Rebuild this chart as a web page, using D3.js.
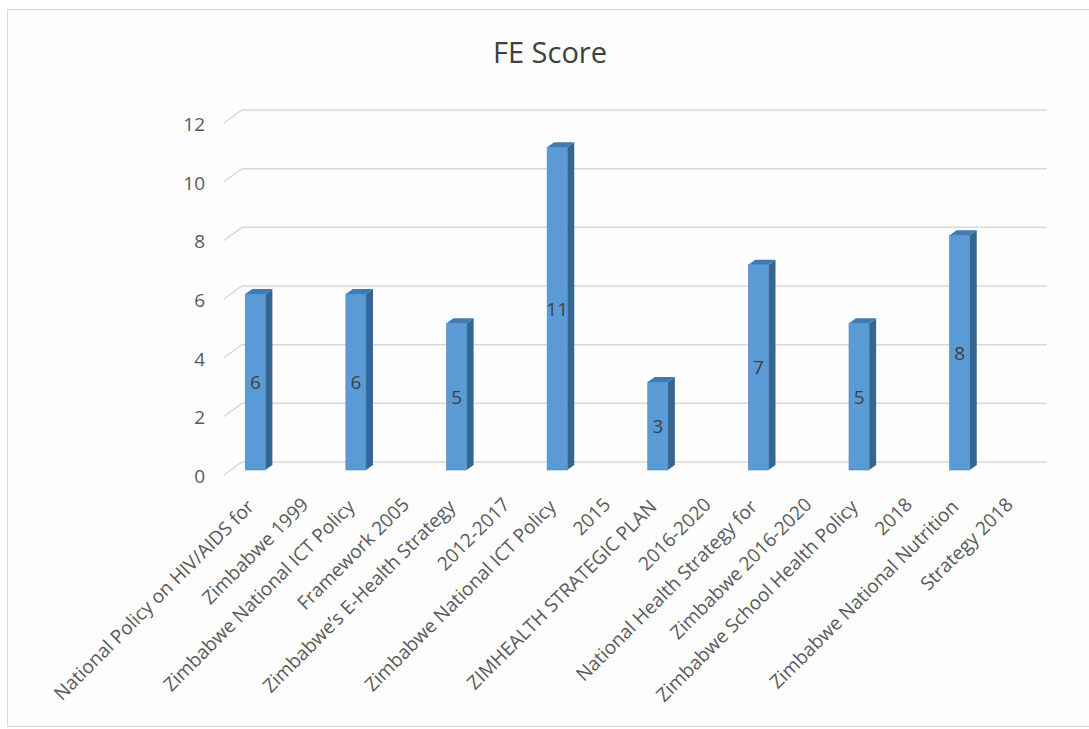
<!DOCTYPE html>
<html>
<head>
<meta charset="utf-8">
<script src="https://cdn.jsdelivr.net/npm/d3@7"></script>
<style>
  body { margin: 0; background: #fff; }
  text { font-family: "Open Sans", sans-serif; }
</style>
</head>
<body>
<svg id="chart" width="1089" height="729"></svg>
<script>
// category labels, each wrapped over two lines as in the original
var labelLine1 = [
  "National Policy on HIV/AIDS for",
  "Zimbabwe National ICT Policy",
  "Zimbabwe\u2019s E-Health Strategy",
  "Zimbabwe National ICT Policy",
  "ZIMHEALTH STRATEGIC PLAN",
  "National Health Strategy for",
  "Zimbabwe School Health Policy",
  "Zimbabwe National Nutrition"
];
var labelLine2 = [
  "Zimbabwe 1999",
  "Framework 2005",
  "2012-2017",
  "2015",
  "2016-2020",
  "Zimbabwe 2016-2020",
  "2018",
  "Strategy 2018"
];
var scores = [6, 6, 5, 11, 3, 7, 5, 8];
var yTicks = [0, 2, 4, 6, 8, 10, 12];

var svg = d3.select("#chart");

// frame
svg.append("rect")
  .attr("x", 7.5).attr("y", 9.5)
  .attr("width", 1095).attr("height", 717)
  .attr("fill", "#fdfdfd")
  .attr("stroke", "#d9d9d9");

svg.append("text")
  .attr("x", 550).attr("y", 63)
  .attr("text-anchor", "middle")
  .attr("font-size", 29)
  .attr("fill", "#404040")
  .text("FE Score");

var x = d3.scaleBand()
  .domain(d3.range(scores.length))
  .range([205, 1010])
  .paddingInner(0.8)
  .paddingOuter(0.4);

// front face scale, back wall sits a bit higher
var y = d3.scaleLinear().domain([0, 12]).range([470, 118]);
var wallShift = -8;
var depthX = 7, depthY = -5;

// gridlines on the back wall plus the little slanted ends
var grid = svg.append("g");
yTicks.forEach(function(t) {
  var yb = y(t) + wallShift;
  grid.append("path")
    .attr("d", "M224," + (yb + 13) + "L242," + yb + "L1047," + yb)
    .attr("fill", "none")
    .attr("stroke", "#d9d9d9")
    .attr("stroke-width", 1.5);
  grid.append("text")
    .attr("x", 205).attr("y", yb + 21)
    .attr("text-anchor", "end")
    .attr("font-size", 19)
    .attr("fill", "#595959")
    .text(t);
});

// bars: side, top, then front
var bars = svg.append("g").selectAll("g")
  .data(scores)
  .enter().append("g");

bars.append("path")
  .attr("d", function(d, i) {
    var x1 = x(i) + x.bandwidth();
    return "M" + x1 + "," + y(d) + "L" + (x1 + depthX) + "," + (y(d) + depthY) +
      "L" + (x1 + depthX) + "," + (y(0) + depthY) + "L" + x1 + "," + y(0) + "Z";
  })
  .attr("fill", "#35668f");

bars.append("path")
  .attr("d", function(d, i) {
    var x0 = x(i), x1 = x(i) + x.bandwidth();
    return "M" + x0 + "," + y(d) + "L" + (x0 + depthX) + "," + (y(d) + depthY) +
      "L" + (x1 + depthX) + "," + (y(d) + depthY) + "L" + x1 + "," + y(d) + "Z";
  })
  .attr("fill", "#3f7ab3");

bars.append("rect")
  .attr("x", function(d, i) { return x(i); })
  .attr("y", function(d) { return y(d); })
  .attr("width", x.bandwidth())
  .attr("height", function(d) { return y(0) - y(d); })
  .attr("fill", "#5b9bd5")
  .attr("stroke", "#4a86bf")
  .attr("stroke-width", 0.6);

bars.append("text")
  .attr("x", function(d, i) { return x(i) + x.bandwidth() / 2; })
  .attr("y", function(d) { return (y(d) + y(0)) / 2 + 7; })
  .attr("text-anchor", "middle")
  .attr("font-size", 19)
  .attr("fill", "#404040")
  .text(function(d) { return d; });

// rotated two-line category labels
var labels = svg.append("g").selectAll("g")
  .data(labelLine1)
  .enter().append("g")
  .attr("transform", function(d, i) {
    return "translate(" + (x(i) + x.bandwidth() / 2) + ",508) rotate(-45)";
  })
  .attr("font-size", 19)
  .attr("fill", "#595959")
  .attr("text-anchor", "end");

labels.append("text").text(function(d) { return d; });
labels.append("text")
  .attr("x", 40).attr("y", 37)
  .text(function(d, i) { return labelLine2[i]; });
</script>
</body>
</html>
